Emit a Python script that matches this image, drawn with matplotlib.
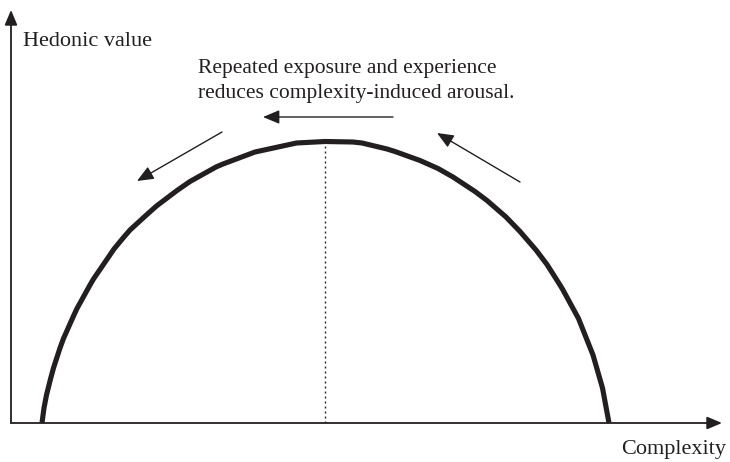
import matplotlib
matplotlib.use("Agg")
import matplotlib.pyplot as plt
import numpy as np

# Curve (complexity, hedonic value), arbitrary units
complexity = [31, 33, 35.5, 39.5, 42.5, 49, 52.5, 62.5, 66, 79, 82.5, 103,
              112.5, 119, 136.5, 145.5, 166, 179, 205, 212, 244, 285.5, 314,
              342, 351, 376, 384, 409, 427, 442, 464, 476, 495, 509, 525,
              536, 549, 552, 567.5, 582, 591.5, 598]
hedonic = [0, 15, 28, 44, 55, 75, 84.5, 107, 114.5, 138, 144, 174,
           185.5, 193, 209, 217, 232.5, 241.5, 256, 259, 271, 280, 281.5,
           281, 280, 274, 271.5, 262.5, 254.5, 246, 231.5, 222.5, 206, 191.5, 173,
           158.5, 138, 133, 104.5, 68, 35, 0]

x_label = "Complexity"
y_label = "Hedonic value"
note_lines = ["Repeated exposure and experience",
              "reduces complexity-induced arousal."]

plt.rcParams['font.family'] = ['Liberation Serif', 'DejaVu Serif']
ink = '#231f20'

W, H = 730, 462
fig = plt.figure(figsize=(W / 100, H / 100), dpi=100)
x0, x1, ytop, ybot = 11, 722, 10, 423
ax = fig.add_axes([x0 / W, (H - ybot) / H, (x1 - x0) / W, (ybot - ytop) / H])
ax.set_xlim(0, x1 - x0)
ax.set_ylim(0, ybot - ytop)
ax.axis('off')

def d(px, py):
    return (px - x0, ybot - py)

# axes with arrows
arrow_axis = dict(arrowstyle='-|>,head_length=0.9,head_width=0.38', color=ink,
                  lw=1.3, shrinkA=0, shrinkB=0)
ax.annotate('', xy=(1, 0), xytext=(0, 0), xycoords='axes fraction',
            arrowprops=arrow_axis, annotation_clip=False)
ax.annotate('', xy=(0, 1), xytext=(0, 0), xycoords='axes fraction',
            arrowprops=arrow_axis, annotation_clip=False)

# curve
ax.plot(complexity, hedonic, color=ink, lw=3.7, solid_capstyle='butt',
        solid_joinstyle='round', clip_on=False)

# dotted line at the peak
i = int(np.argmax(hedonic))
ax.plot([complexity[i], complexity[i]], [0, hedonic[i]], color=ink, lw=1.0,
        linestyle=(0, (1.4, 2.2)))

# labels
ax.text(*d(23, 46), y_label, fontsize=16, color=ink, ha='left',
        va='baseline', clip_on=False)
ax.text(*d(726, 454), x_label, fontsize=16, color=ink, ha='right',
        va='baseline', clip_on=False)
for k, line in enumerate(note_lines):
    ax.text(*d(198, 73 + 25 * k), line, fontsize=15.5, color=ink, ha='left',
            va='baseline', clip_on=False)

# annotation arrows
arr = dict(arrowstyle='-|>,head_length=1.0,head_width=0.42', color=ink,
           lw=1.0, shrinkA=0, shrinkB=0)
for (tx, ty), (hx, hy) in [((393, 117), (263, 117)),
                           ((222, 132), (137, 181)),
                           ((520, 182), (437, 133))]:
    ax.annotate('', xy=d(hx, hy), xytext=d(tx, ty), arrowprops=arr,
                annotation_clip=False)

fig.savefig('out.png', dpi=100, facecolor='white')
